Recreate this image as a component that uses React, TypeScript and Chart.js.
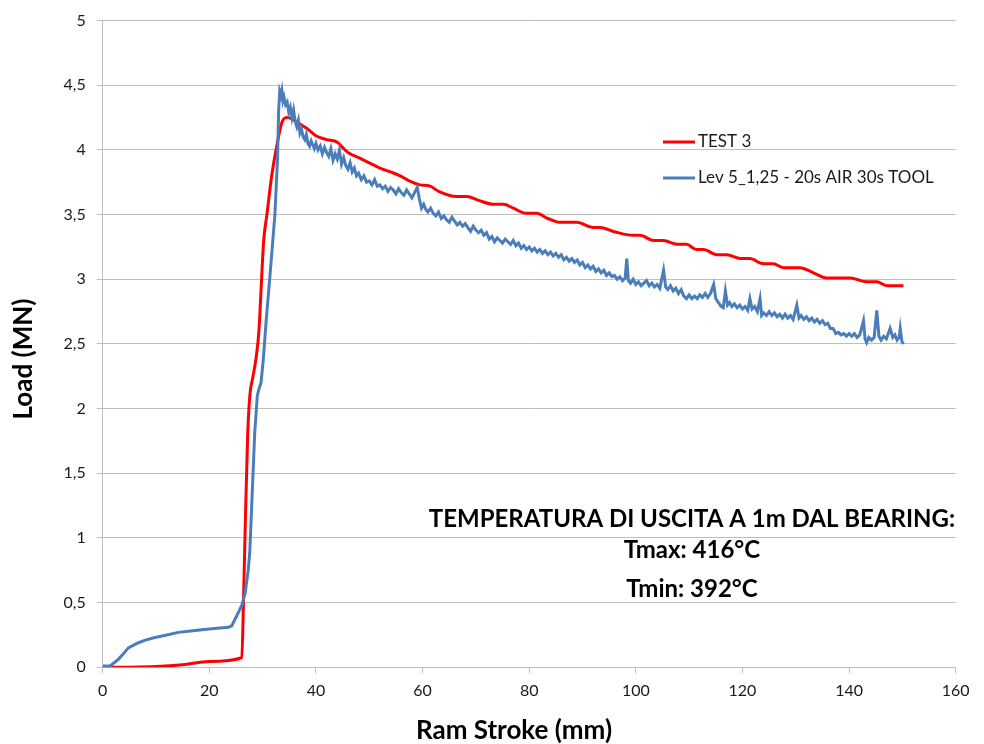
import { useEffect, useRef } from "react";
import { Chart, registerables } from "chart.js";

Chart.register(...registerables);

// ---- data ----
const xTickValues = [0, 20, 40, 60, 80, 100, 120, 140, 160];
const yTickValues = [0, 0.5, 1, 1.5, 2, 2.5, 3, 3.5, 4, 4.5, 5];

const test3Label = "TEST 3";
const levLabel = "Lev 5_1,25 - 20s AIR 30s TOOL";

const annotationLines = [
  "TEMPERATURA DI USCITA A 1m DAL BEARING:",
  "Tmax: 416°C",
  "Tmin: 392°C",
];

const xTitle = "Ram Stroke (mm)";
const yTitle = "Load (MN)";

const test3Points: [number, number][] = [
  [0, 0], [5, 0.001], [10, 0.006], [15, 0.02], [20, 0.045], [26.1, 0.074],
  [26.4, 0.5], [26.8, 1.2], [27.2, 1.8], [27.6, 2.1], [28.2, 2.25], [28.8, 2.4],
  [29.3, 2.6], [29.8, 3.0], [30.2, 3.3], [30.8, 3.5], [31.7, 3.8], [32.6, 4.02],
  [33.6, 4.21], [34.5, 4.25], [35.5, 4.24], [37, 4.2], [38.5, 4.16], [40, 4.11],
  [42, 4.08], [44, 4.06], [45, 4.02], [46, 3.98], [48, 3.94], [50, 3.9],
  [52, 3.86], [54, 3.83], [55.8, 3.8], [57.5, 3.76], [59.5, 3.73], [61.4, 3.72],
  [63, 3.68], [66.4, 3.64], [68.3, 3.64], [70.5, 3.61], [73.3, 3.58], [75.2, 3.58],
  [77, 3.55], [79.5, 3.51], [81.4, 3.51], [83.5, 3.47], [85.8, 3.44], [88.9, 3.44],
  [92, 3.4], [93.3, 3.4], [95.8, 3.37], [99.5, 3.34], [100.8, 3.34], [103.3, 3.3],
  [105.2, 3.3], [107.7, 3.27], [109.5, 3.27], [111.4, 3.23], [112.7, 3.23], [115.2, 3.19],
  [117.1, 3.19], [119.6, 3.16], [121.4, 3.16], [123.9, 3.12], [125.8, 3.12], [127.7, 3.09],
  [130.8, 3.09], [133.3, 3.05], [135.8, 3.01], [140.2, 3.01], [143.3, 2.98], [145.2, 2.98],
  [147.1, 2.95], [150.2, 2.95],
];

const levRisePoints: [number, number][] = [
  [0, 0.01], [1.4, 0.01], [2.9, 0.06], [4, 0.11], [4.8, 0.15], [6.7, 0.19], [8, 0.21],
  [9.8, 0.23], [12, 0.25], [14.2, 0.27], [16.5, 0.28], [18.6, 0.29], [21, 0.3],
  [23.6, 0.31], [24.2, 0.32], [25.4, 0.42], [26.1, 0.48], [26.7, 0.57], [27.3, 0.75],
  [27.6, 0.9], [28, 1.3], [28.5, 1.8], [29, 2.1], [29.3, 2.15], [29.7, 2.2], [30.1, 2.37],
  [30.7, 2.7], [31.4, 3.04], [32.3, 3.5], [32.8, 3.94], [33.0, 4.3],
];

const levDecayPoints: [number, number][] = [
  [33.2, 4.45], [33.4, 4.42], [33.6, 4.46], [33.8, 4.38], [34.0, 4.41], [34.3, 4.35],
  [34.6, 4.37], [34.9, 4.29], [35.2, 4.33], [35.5, 4.25], [35.8, 4.31], [36.1, 4.22],
  [36.4, 4.18], [36.7, 4.23], [37.0, 4.13], [37.3, 4.16], [37.6, 4.1], [37.9, 4.08],
  [38.2, 4.12], [38.5, 4.05], [38.8, 4.03], [39.1, 4.07], [39.4, 4.04], [39.7, 4.01],
  [40.0, 4.05], [40.4, 4.0], [40.8, 4.03], [41.2, 3.97], [41.6, 4.02], [42.0, 3.98],
  [42.4, 3.95], [42.8, 4.01], [43.2, 3.92], [43.6, 3.97], [44.0, 3.93], [44.4, 4.0],
  [44.8, 3.89], [45.2, 3.94], [45.6, 3.88], [46.0, 3.85], [46.4, 3.9], [46.8, 3.83],
  [47.2, 3.86], [47.6, 3.8], [48.0, 3.82], [48.5, 3.77], [49.0, 3.8], [49.5, 3.75],
  [50.0, 3.76], [50.5, 3.73], [51.0, 3.77], [51.5, 3.72], [52.0, 3.73], [52.5, 3.7],
  [53.0, 3.72], [53.5, 3.68], [54.0, 3.71], [54.5, 3.69], [55.0, 3.66], [55.5, 3.7],
  [56.0, 3.67], [56.5, 3.65], [57.0, 3.69], [57.5, 3.66], [58.0, 3.63], [58.5, 3.67],
  [59.0, 3.71], [59.4, 3.62], [59.8, 3.55], [60.2, 3.58], [60.6, 3.54], [61.0, 3.52],
  [61.5, 3.55], [62.0, 3.51], [62.5, 3.49], [63.0, 3.52], [63.5, 3.47], [64.0, 3.49],
  [64.5, 3.46], [65.0, 3.44], [65.5, 3.48], [66.0, 3.45], [66.5, 3.42], [67.0, 3.44],
  [67.5, 3.41], [68.0, 3.43], [68.5, 3.4], [69.0, 3.37], [69.5, 3.41], [70.0, 3.38],
  [70.5, 3.36], [71.0, 3.38], [71.5, 3.34], [72.0, 3.36], [72.5, 3.31], [73.0, 3.33],
  [73.5, 3.29], [74.0, 3.32], [74.5, 3.3], [75.0, 3.28], [75.5, 3.31], [76.0, 3.29],
  [76.5, 3.27], [77.0, 3.3], [77.5, 3.26], [78.0, 3.28], [78.5, 3.24], [79.0, 3.26],
  [79.5, 3.23], [80.0, 3.25], [80.5, 3.22], [81.0, 3.24], [81.5, 3.21], [82.0, 3.23],
  [82.5, 3.2], [83.0, 3.22], [83.5, 3.19], [84.0, 3.21], [84.5, 3.18], [85.0, 3.2],
  [85.5, 3.17], [86.0, 3.19], [86.5, 3.15], [87.0, 3.17], [87.5, 3.14], [88.0, 3.16],
  [88.5, 3.13], [89.0, 3.15], [89.5, 3.11], [90.0, 3.13], [90.5, 3.09], [91.0, 3.11],
  [91.5, 3.08], [92.0, 3.1], [92.5, 3.06], [93.0, 3.08], [93.5, 3.05], [94.0, 3.07],
  [94.5, 3.03], [95.0, 3.05], [95.5, 3.02], [96.0, 3.03], [96.5, 3.0], [97.0, 3.02],
  [97.5, 2.99], [98.0, 3.01], [98.3, 3.16], [98.6, 2.99], [99.0, 2.97], [99.5, 3.0],
  [100.0, 2.96], [100.5, 2.98], [101.0, 2.95], [101.5, 2.97], [102.0, 2.99], [102.5, 2.95],
  [103.0, 2.97], [103.5, 2.94], [104.0, 2.96], [104.5, 2.93], [105.2, 3.07], [105.6, 2.94],
  [106.0, 2.92], [106.5, 2.95], [107.0, 2.91], [107.5, 2.93], [108.0, 2.89], [108.5, 2.92],
  [109.0, 2.87], [109.5, 2.85], [110.0, 2.88], [110.5, 2.85], [111.0, 2.87], [111.5, 2.85],
  [112.0, 2.88], [112.5, 2.86], [113.0, 2.89], [113.5, 2.86], [114.0, 2.89], [114.6, 2.96],
  [115.0, 2.85], [115.5, 2.82], [116.0, 2.79], [116.4, 2.78], [116.8, 2.91], [117.2, 2.8],
  [117.6, 2.82], [118.0, 2.79], [118.5, 2.81], [119.0, 2.78], [119.5, 2.8], [120.0, 2.77],
  [120.5, 2.79], [121.0, 2.76], [121.4, 2.85], [121.8, 2.77], [122.3, 2.79], [122.8, 2.75],
  [123.3, 2.85], [123.6, 2.72], [124.0, 2.74], [124.5, 2.72], [125.0, 2.75], [125.5, 2.72],
  [126.0, 2.74], [126.5, 2.71], [127.0, 2.73], [127.5, 2.7], [128.0, 2.73], [128.5, 2.7],
  [129.0, 2.72], [129.5, 2.69], [130.2, 2.8], [130.6, 2.7], [131.0, 2.72], [131.5, 2.69],
  [132.0, 2.71], [132.5, 2.68], [133.0, 2.7], [133.5, 2.67], [134.0, 2.69], [134.5, 2.66],
  [135.0, 2.68], [135.5, 2.65], [136.0, 2.66], [136.5, 2.62], [137.0, 2.62], [137.5, 2.58],
  [138.0, 2.59], [138.5, 2.57], [139.0, 2.58], [139.5, 2.56], [140.0, 2.58], [140.5, 2.56],
  [141.0, 2.58], [141.5, 2.55], [142.0, 2.57], [142.7, 2.68], [143.0, 2.54], [143.3, 2.51],
  [143.7, 2.55], [144.2, 2.53], [144.7, 2.55], [145.2, 2.76], [145.6, 2.56], [146.0, 2.53],
  [146.5, 2.56], [147.0, 2.54], [147.7, 2.62], [148.2, 2.55], [148.6, 2.57], [149.0, 2.53],
  [149.4, 2.55], [149.6, 2.62], [149.9, 2.52], [150.2, 2.5],
];

// ---- styles ----
const RED = "#ff0000";
const BLUE = "#4a7ebb";
const GRID = "#bfbfbf";
const TEXT = "#1a1a1a";
const FONT = "Lato, 'Liberation Sans', sans-serif";

const fmt = (v: number) => String(v).replace(".", ",");

const overlayPlugin = {
  id: "overlayTexts",
  afterDraw(chart: any) {
    const ctx: CanvasRenderingContext2D = chart.ctx;
    ctx.save();
    // legend
    ctx.lineWidth = 3;
    ctx.lineCap = "butt";
    ctx.strokeStyle = RED;
    ctx.beginPath();
    ctx.moveTo(663, 142);
    ctx.lineTo(695, 142);
    ctx.stroke();
    ctx.strokeStyle = BLUE;
    ctx.beginPath();
    ctx.moveTo(663, 178);
    ctx.lineTo(695, 178);
    ctx.stroke();
    ctx.fillStyle = TEXT;
    ctx.font = `17px ${FONT}`;
    ctx.textAlign = "left";
    ctx.textBaseline = "middle";
    ctx.fillText(test3Label, 698, 142);
    ctx.fillText(levLabel, 698, 178);

    // annotation
    ctx.fillStyle = "#000";
    ctx.font = `bold 24px ${FONT}`;
    ctx.textAlign = "center";
    ctx.fillText(annotationLines[0], 692, 519);
    ctx.fillText(annotationLines[1], 692, 550);
    ctx.fillText(annotationLines[2], 692, 589);

    // axis titles
    ctx.font = `bold 26px ${FONT}`;
    ctx.fillText(xTitle, 514, 731);
    ctx.translate(24, 359);
    ctx.rotate(-Math.PI / 2);
    ctx.fillText(yTitle, 0, 0);
    ctx.restore();
  },
};

export default function App() {
  const ref = useRef<HTMLCanvasElement | null>(null);

  useEffect(() => {
    document.body.style.margin = "0";
    const canvas = ref.current;
    if (!canvas) return;
    const chart = new Chart(canvas, {
      type: "line",
      data: {
        datasets: [
          {
            label: levLabel,
            data: [...levRisePoints, ...levDecayPoints].map(([x, y]) => ({ x, y })),
            borderColor: BLUE,
            borderWidth: 3,
            pointRadius: 0,
            tension: 0,
            fill: false,
          },
          {
            label: test3Label,
            data: test3Points.map(([x, y]) => ({ x, y })),
            borderColor: RED,
            borderWidth: 3,
            pointRadius: 0,
            cubicInterpolationMode: "monotone",
            fill: false,
          },
        ],
      },
      options: {
        animation: false,
        responsive: false,
        devicePixelRatio: 1,
        layout: { padding: { top: 19.3, right: 28.3, left: 0, bottom: 0 } },
        plugins: {
          legend: { display: false },
          tooltip: { enabled: false },
        },
        scales: {
          x: {
            type: "linear",
            min: 0,
            max: 160,
            afterBuildTicks: (scale: any) => {
              scale.ticks = xTickValues.map((v) => ({ value: v }));
            },
            afterFit: (scale: any) => {
              scale.height = 744 - 667.3;
            },
            ticks: {
              color: TEXT,
              font: { family: FONT, size: 16 },
              padding: 8,
              maxRotation: 0,
              callback: (v: any) => fmt(Number(v)),
            },
            grid: {
              drawOnChartArea: false,
              drawTicks: true,
              tickLength: 6,
              color: GRID,
            },
            border: { color: GRID, width: 1 },
          },
          y: {
            type: "linear",
            min: 0,
            max: 5,
            afterBuildTicks: (scale: any) => {
              scale.ticks = yTickValues.map((v) => ({ value: v }));
            },
            afterFit: (scale: any) => {
              scale.width = 102.7;
            },
            ticks: {
              color: TEXT,
              font: { family: FONT, size: 16 },
              padding: 11,
              callback: (v: any) => fmt(Number(v)),
            },
            grid: {
              drawOnChartArea: true,
              drawTicks: true,
              tickLength: 6,
              color: GRID,
            },
            border: { color: GRID, width: 1 },
          },
        },
      },
      plugins: [overlayPlugin],
    } as any);
    return () => chart.destroy();
  }, []);

  return (
    <div style={{ position: "absolute", left: 0, top: 0, width: 984, height: 744, background: "#fff" }}>
      <canvas ref={ref} width={984} height={744} />
    </div>
  );
}
